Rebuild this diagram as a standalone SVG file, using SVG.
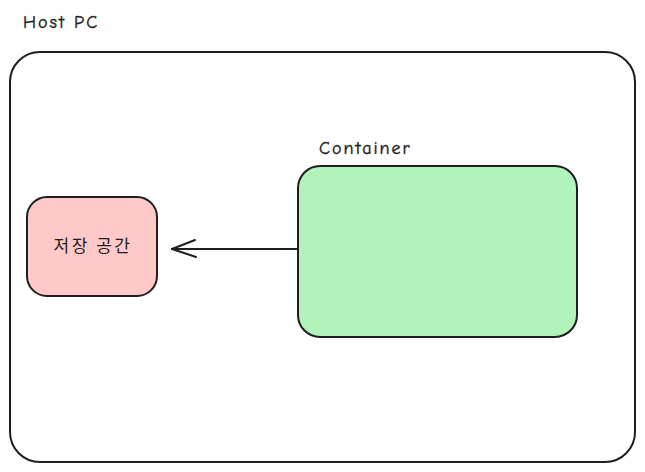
<svg xmlns="http://www.w3.org/2000/svg" width="645" height="472" viewBox="0 0 645 472">
<style>
.box{stroke:#1e1e1e;stroke-width:2;stroke-linejoin:round}
.lbl{font-family:"Comic Neue","Liberation Sans","Noto Sans",sans-serif;font-size:18px;letter-spacing:2px;fill:#1e1e1e;stroke:#1e1e1e;stroke-width:0.4}
.kr{font-family:"Noto Sans CJK KR","Noto Sans",sans-serif;font-size:17px;letter-spacing:2.5px;fill:#1e1e1e}
.conn{stroke:#1e1e1e;stroke-width:2;fill:none;stroke-linecap:round;stroke-linejoin:round}
</style>
<rect width="645" height="472" fill="#ffffff"/>
<g id="host">
<text class="lbl" x="23" y="28">Host PC</text>
<rect class="box" x="10" y="52" width="625" height="410" rx="30" fill="none"/>
</g>
<g id="storage">
<rect class="box" x="27" y="197" width="130" height="99" rx="20" fill="#ffc9c9"/>
<text class="kr" x="93" y="252" text-anchor="middle">저장 공간</text>
</g>
<g id="container">
<text class="lbl" x="319" y="154">Container</text>
<rect class="box" x="298" y="166" width="279" height="171" rx="22" fill="#b2f2bb"/>
</g>
<g id="connectors">
<path class="conn" d="M297 249 L172 249"/>
<path class="conn" d="M195 240 L172 249 L196 257"/>
</g>
</svg>
